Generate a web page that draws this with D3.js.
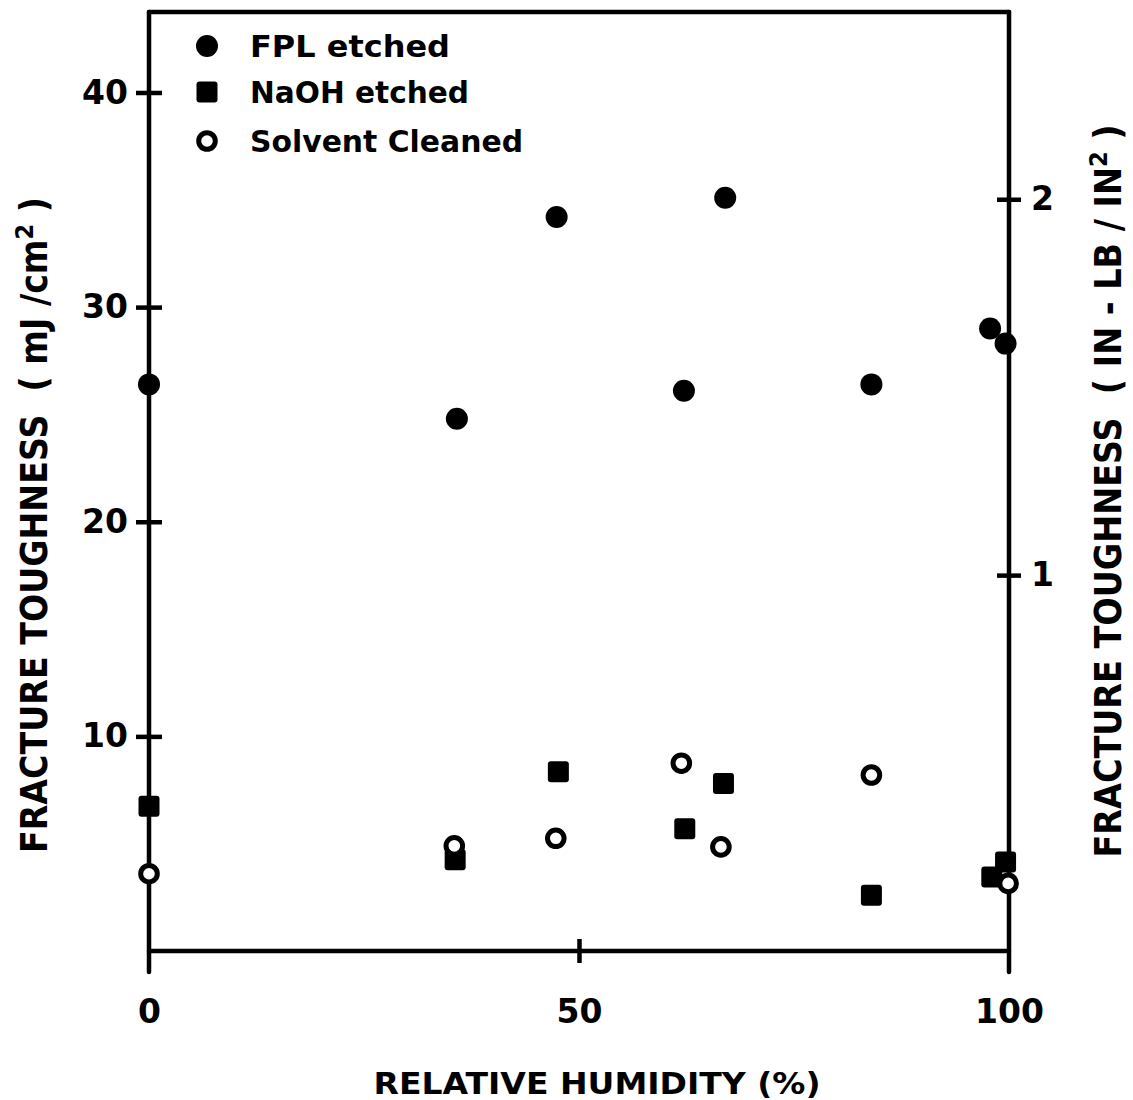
<!DOCTYPE html>
<html>
<head>
<meta charset="utf-8">
<script src="https://cdn.jsdelivr.net/npm/d3@7"></script>
<style>
  body { margin: 0; background: #fff; }
  svg { display: block; }
  text { font-family: "DejaVu Sans", sans-serif; font-weight: bold; fill: #000; white-space: pre; }
</style>
</head>
<body>
<svg id="chart" width="1133" height="1100"></svg>
<script>
// relative humidity (%) and fracture toughness (mJ/cm2)
const fplRH = [0, 35.8, 47.4, 62.2, 67.0, 84.0, 97.8, 99.6];
const fplFT = [26.4, 24.8, 34.2, 26.1, 35.1, 26.4, 29.0, 28.3];
const naohRH = [0, 35.6, 47.6, 62.3, 66.8, 84.0, 98.0, 99.6];
const naohFT = [6.75, 4.25, 8.35, 5.7, 7.8, 2.6, 3.45, 4.15];
const solvRH = [0, 35.5, 47.3, 61.9, 66.5, 84.0, 99.9];
const solvFT = [3.6, 4.9, 5.25, 8.75, 4.85, 8.2, 3.15];

const xTicks = [0, 50, 100];
const yTicks = [10, 20, 30, 40];
const yRightTicks = [1, 2];
const legendLabels = ["FPL etched", "NaOH etched", "Solvent Cleaned"];

// 1 in-lb/in^2 = 17.513 mJ/cm^2
const mJperInLb = 17.513;

const plotLeft = 149, plotRight = 1009, plotTop = 12, plotBottom = 951;
const yMax = 43.75;

const svg = d3.select("#chart");

const x = d3.scaleLinear().domain([0, 100]).range([plotLeft, plotRight]);
const y = d3.scaleLinear().domain([0, yMax]).range([plotBottom, plotTop]);
const y2 = d3.scaleLinear().domain([0, yMax / mJperInLb]).range([plotBottom, plotTop]);

const lw = 4.5;

// frame
const frame = svg.append("g").attr("stroke", "#000").attr("stroke-width", lw).attr("stroke-linecap", "round");
frame.append("line").attr("x1", plotLeft).attr("x2", plotLeft).attr("y1", plotTop).attr("y2", plotBottom + 21);
frame.append("line").attr("x1", plotRight).attr("x2", plotRight).attr("y1", plotTop).attr("y2", plotBottom + 21);
frame.append("line").attr("x1", plotLeft).attr("x2", plotRight).attr("y1", plotTop).attr("y2", plotTop);
frame.append("line").attr("x1", plotLeft).attr("x2", plotRight).attr("y1", plotBottom).attr("y2", plotBottom);

// axes
function styleAxis(g, crossAttr, len) {
    g.select(".domain").remove();
    g.selectAll(".tick line")
        .attr("stroke", "#000")
        .attr("stroke-width", lw)
        .attr(crossAttr + "1", -len)
        .attr(crossAttr + "2", len);
    g.selectAll(".tick text")
        .style("font-family", "'DejaVu Sans', sans-serif")
        .style("font-weight", "bold")
        .attr("font-size", 33);
}

svg.append("g")
    .attr("transform", "translate(" + plotLeft + ",0)")
    .call(d3.axisLeft(y).tickValues(yTicks).tickSize(13).tickPadding(8))
    .call(g => styleAxis(g, "x", 13));

svg.append("g")
    .attr("transform", "translate(" + plotRight + ",0)")
    .call(d3.axisRight(y2).tickValues(yRightTicks).tickFormat(d3.format("d")).tickSize(12).tickPadding(10))
    .call(g => styleAxis(g, "x", 12));

const xAxis = svg.append("g")
    .attr("transform", "translate(0," + plotBottom + ")")
    .call(d3.axisBottom(x).tickValues(xTicks).tickSize(12).tickPadding(37))
    .call(g => styleAxis(g, "y", 12));
// only the 50 tick is marked across the axis
xAxis.selectAll(".tick line").filter(d => d !== 50).remove();

// axis titles, with a raised "2"
function rotatedTitle(cx, cy, len, before, after) {
    const t = svg.append("text")
        .attr("transform", "translate(" + cx + "," + cy + ") rotate(-90)")
        .attr("text-anchor", "middle")
        .attr("font-size", 37)
        .attr("textLength", len)
        .attr("lengthAdjust", "spacingAndGlyphs");
    t.append("tspan").text(before);
    t.append("tspan").attr("font-size", 25).attr("dy", -14).text("2");
    t.append("tspan").attr("dy", 14).text(after);
}
rotatedTitle(47, 525, 656, "FRACTURE TOUGHNESS  ( mJ /cm", " )");
rotatedTitle(1121, 491, 733, "FRACTURE TOUGHNESS  ( IN - LB / IN", " )");

svg.append("text")
    .attr("x", 597)
    .attr("y", 1094)
    .attr("text-anchor", "middle")
    .attr("font-size", 31)
    .attr("textLength", 447)
    .attr("lengthAdjust", "spacingAndGlyphs")
    .text("RELATIVE HUMIDITY (%)");

// markers
function drawFilledCircle(g, cx, cy) {
    g.append("circle").attr("cx", cx).attr("cy", cy).attr("r", 11).attr("fill", "#000");
}
function drawSquare(g, cx, cy) {
    g.append("rect").attr("x", cx - 10.5).attr("y", cy - 10.5)
        .attr("width", 21).attr("height", 21).attr("rx", 3).attr("fill", "#000");
}
function drawOpenCircle(g, cx, cy) {
    g.append("circle").attr("cx", cx).attr("cy", cy).attr("r", 8.3)
        .attr("fill", "#fff").attr("stroke", "#000").attr("stroke-width", 5);
}

const pts = svg.append("g");
naohRH.forEach((rh, i) => drawSquare(pts, x(rh), y(naohFT[i])));
solvRH.forEach((rh, i) => drawOpenCircle(pts, x(rh), y(solvFT[i])));
fplRH.forEach((rh, i) => drawFilledCircle(pts, x(rh), y(fplFT[i])));

// legend
const legend = svg.append("g");
const legendMarkers = [drawFilledCircle, drawSquare, drawOpenCircle];
const legendY = [46, 92, 141];
const legendWidths = [200, 219, 273];
legendLabels.forEach((label, i) => {
    legendMarkers[i](legend, 207, legendY[i]);
    legend.append("text")
        .attr("x", 250)
        .attr("y", legendY[i] + 11)
        .attr("font-size", 30)
        .attr("textLength", legendWidths[i])
        .attr("lengthAdjust", "spacingAndGlyphs")
        .text(label);
});
</script>
</body>
</html>
